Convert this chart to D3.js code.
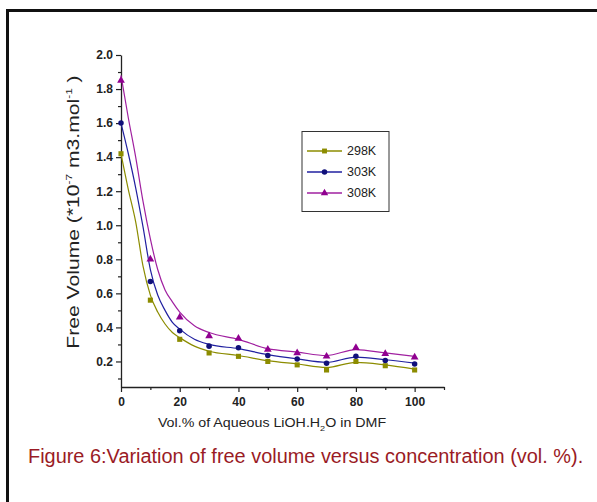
<!DOCTYPE html>
<html>
<head>
<meta charset="utf-8">
<script src="https://cdn.jsdelivr.net/npm/d3@7/dist/d3.min.js"></script>
<style>
  body { margin: 0; background: #fff; }
  text { font-family: "Liberation Sans", Arial, sans-serif; }
</style>
</head>
<body>
<script>
var width = 597, height = 502;

// measured points (vol.% vs free volume)
var volPct = [0, 10, 20, 30, 40, 50, 60, 70, 80, 90, 100];
var fv298 = [1.42, 0.56, 0.33, 0.25, 0.23, 0.20, 0.18, 0.15, 0.20, 0.175, 0.15];
var fv303 = [1.60, 0.67, 0.38, 0.29, 0.28, 0.235, 0.215, 0.19, 0.23, 0.205, 0.185];
var fv308 = [1.85, 0.80, 0.46, 0.35, 0.335, 0.27, 0.25, 0.23, 0.28, 0.245, 0.225];

// fitted curves
var fitX = [0, 2.5, 5, 7.5, 10, 12.5, 15, 17.5, 20, 25, 30, 40, 50, 60, 70, 80, 90, 100];
var fit298 = [1.42, 1.21, 1.02, 0.76, 0.59, 0.49, 0.42, 0.37, 0.34, 0.29, 0.26, 0.235, 0.205, 0.185, 0.165, 0.195, 0.18, 0.155];
var fit303 = [1.60, 1.42, 1.22, 0.99, 0.74, 0.59, 0.50, 0.43, 0.39, 0.33, 0.30, 0.275, 0.24, 0.215, 0.195, 0.225, 0.21, 0.19];
var fit308 = [1.88, 1.63, 1.40, 1.14, 0.92, 0.74, 0.62, 0.55, 0.49, 0.41, 0.37, 0.33, 0.275, 0.255, 0.235, 0.27, 0.25, 0.23];

var seriesNames = ["298K", "303K", "308K"];
var colors = ["#8c8c00", "#2020a0", "#a020a0"];
var markerColors = ["#8c8c00", "#10107a", "#900090"];
var shapes = [d3.symbolSquare, d3.symbolCircle, d3.symbolTriangle];

var xTicks = [0, 20, 40, 60, 80, 100];
var yTicks = [0.2, 0.4, 0.6, 0.8, 1.0, 1.2, 1.4, 1.6, 1.8, 2.0];

var svg = d3.select("body").append("svg")
    .attr("width", width)
    .attr("height", height);

// frame of the figure
svg.append("line").attr("x1", 7).attr("x2", width).attr("y1", 10.5).attr("y2", 10.5)
    .attr("stroke", "#111").attr("stroke-width", 3);
svg.append("line").attr("x1", 7.5).attr("x2", 7.5).attr("y1", 9).attr("y2", height)
    .attr("stroke", "#111").attr("stroke-width", 3);

var x = d3.scaleLinear().domain([0, 110]).range([121, 444]);
var y = d3.scaleLinear().domain([0.05, 2.0]).range([387, 55]);

// axes
var xAxis = svg.append("g").attr("transform", "translate(0,387)")
    .call(d3.axisBottom(x).tickValues(xTicks).tickFormat(d3.format("d")).tickSize(5).tickSizeOuter(0));
svg.append("g").attr("transform", "translate(0,387)")
    .call(d3.axisBottom(x).tickValues([10, 30, 50, 70, 90, 110]).tickFormat("").tickSize(3).tickSizeOuter(0))
    .select(".domain").remove();

var yAxis = svg.append("g").attr("transform", "translate(121,0)")
    .call(d3.axisLeft(y).tickValues(yTicks).tickFormat(d3.format(".1f")).tickSize(5).tickSizeOuter(0));
svg.append("g").attr("transform", "translate(121,0)")
    .call(d3.axisLeft(y).tickValues([0.1, 0.3, 0.5, 0.7, 0.9, 1.1, 1.3, 1.5, 1.7, 1.9]).tickFormat("").tickSize(3).tickSizeOuter(0))
    .select(".domain").remove();

svg.selectAll(".domain").attr("stroke", "#222").attr("stroke-width", 1.3);
svg.selectAll(".tick line").attr("stroke", "#222").attr("stroke-width", 1.2);
xAxis.selectAll("text").attr("font-size", 12).attr("font-weight", "bold").attr("fill", "#222").attr("dy", "0.9em");
yAxis.selectAll("text").attr("font-size", 12).attr("font-weight", "bold").attr("fill", "#222");

// axis titles
var yLab = svg.append("text")
    .attr("transform", "translate(79,212) rotate(-90) scale(1.32,1)")
    .attr("text-anchor", "middle")
    .attr("font-size", 16)
    .attr("fill", "#222");
yLab.append("tspan").text("Free Volume (*10");
yLab.append("tspan").attr("font-size", 9).attr("dy", -7).text("-7");
yLab.append("tspan").attr("dy", 7).text(" m3.mol");
yLab.append("tspan").attr("font-size", 9).attr("dy", -7).text("-1");
yLab.append("tspan").attr("dy", 7).text(" )");

var xLab = svg.append("text")
    .attr("transform", "translate(272,427) scale(1.14,1)")
    .attr("text-anchor", "middle")
    .attr("font-size", 12.5)
    .attr("fill", "#222");
xLab.append("tspan").text("Vol.% of Aqueous LiOH.H");
xLab.append("tspan").attr("font-size", 8).attr("dy", 4).text("2");
xLab.append("tspan").attr("dy", -4).text("O in DMF");

// curves and markers
var fits = [fit298, fit303, fit308];
var points = [fv298, fv303, fv308];

var line = d3.line()
    .x(function(d) { return x(d[0]); })
    .y(function(d) { return y(d[1]); })
    .curve(d3.curveMonotoneX);

for (var s = 0; s < 3; s++) {
  var fitData = fitX.map(function(v, i) { return [v, fits[s][i]]; });
  svg.append("path")
      .datum(fitData)
      .attr("fill", "none")
      .attr("stroke", colors[s])
      .attr("stroke-width", 1.2)
      .attr("d", line);

  var sym = d3.symbol().type(shapes[s]).size(s == 1 ? 24 : 26);
  svg.selectAll(".pt" + s)
      .data(volPct.map(function(v, i) { return [v, points[s][i]]; }))
      .enter().append("path")
      .attr("class", "pt" + s)
      .attr("d", sym)
      .attr("transform", function(d) { return "translate(" + x(d[0]) + "," + y(d[1]) + ")"; })
      .attr("fill", markerColors[s]);
}

// legend
svg.append("rect")
    .attr("x", 302).attr("y", 131.5)
    .attr("width", 87).attr("height", 80)
    .attr("fill", "#fff").attr("stroke", "#333").attr("stroke-width", 1);

var legendY = [151, 172, 193];
seriesNames.forEach(function(name, i) {
  svg.append("line")
      .attr("x1", 307).attr("x2", 342)
      .attr("y1", legendY[i]).attr("y2", legendY[i])
      .attr("stroke", colors[i]).attr("stroke-width", 1.3);
  svg.append("path")
      .attr("d", d3.symbol().type(shapes[i]).size(24))
      .attr("transform", "translate(324.5," + legendY[i] + ")")
      .attr("fill", markerColors[i]);
  svg.append("text")
      .attr("x", 347).attr("y", legendY[i])
      .attr("dy", "0.35em")
      .attr("font-size", 12.5)
      .attr("fill", "#222")
      .text(name);
});

// caption, condensed like the original narrow face
svg.append("text")
    .attr("transform", "translate(28,463) scale(0.8,1)")
    .attr("font-size", 21)
    .attr("fill", "#9a1b25")
    .attr("textLength", 694)
    .attr("lengthAdjust", "spacingAndGlyphs")
    .text("Figure 6:Variation of free volume versus concentration (vol. %).");
</script>
</body>
</html>
